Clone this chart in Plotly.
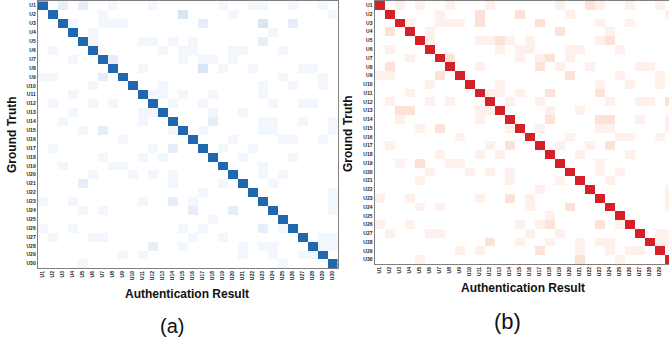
import plotly.graph_objects as go

users = [f"U{i}" for i in range(1, 31)]

# Correct-authentication rate (%) on the diagonal, per ground-truth user
diag_a = [90, 93, 89, 97, 92, 93, 93, 91, 94, 95, 94, 91, 94, 91, 92, 95, 94, 95, 96, 94, 95, 98, 93, 93, 99, 93, 93, 92, 94, 98]
diag_b = [90, 93, 89, 94, 90, 93, 92, 91, 92, 95, 92, 90, 92, 90, 92, 95, 92, 95, 94, 94, 96, 98, 93, 94, 99, 91, 93, 91, 92, 96]

# Misclassification rates (%): for each ground-truth user, (predicted user number, rate)
confusions_a = [
    [(3, 2), (5, 2), (8, 1), (12, 1), (19, 1), (22, 1), (23, 1), (26, 1), (29, 1)],
    [(7, 1), (15, 3), (20, 1), (30, 1)],
    [(4, 1), (7, 1), (8, 1), (9, 1), (17, 2), (23, 3), (26, 2)],
    [(6, 1), (24, 1)],
    [(6, 1), (11, 1), (12, 1), (14, 1), (16, 1), (23, 2)],
    [(2, 1), (13, 1), (15, 1), (16, 1), (20, 1), (21, 1), (25, 1)],
    [(4, 1), (8, 2), (15, 1), (17, 1), (18, 1), (20, 1)],
    [(11, 1), (17, 3), (19, 1), (22, 1), (27, 1), (28, 1)],
    [(1, 1), (2, 1), (7, 2), (25, 1), (29, 1)],
    [(6, 1), (13, 1), (23, 1), (26, 1), (29, 1)],
    [(4, 1), (12, 1), (13, 1), (15, 1), (18, 1), (23, 1)],
    [(2, 1), (6, 1), (8, 1), (14, 1), (17, 1), (24, 1), (27, 1), (28, 1)],
    [(4, 1), (11, 1), (12, 1), (18, 1), (21, 1)],
    [(3, 1), (11, 1), (18, 2), (23, 1), (24, 1), (27, 1), (30, 1)],
    [(5, 1), (7, 2), (14, 1), (17, 1), (23, 1), (24, 1), (30, 1)],
    [(9, 1), (20, 1), (25, 1), (26, 1), (29, 1)],
    [(2, 1), (12, 1), (14, 2), (19, 1), (22, 1)],
    [(7, 1), (11, 1), (13, 1), (21, 1), (26, 1)],
    [(3, 1), (8, 1), (9, 1), (23, 1)],
    [(6, 1), (10, 1), (12, 1), (14, 1), (23, 1), (25, 1)],
    [(5, 2), (14, 1), (19, 1), (24, 1)],
    [(17, 1), (30, 1)],
    [(1, 1), (4, 1), (11, 1), (14, 2), (16, 1), (30, 1)],
    [(5, 1), (7, 1), (16, 2), (20, 2), (30, 1)],
    [(18, 1)],
    [(1, 1), (4, 1), (15, 1), (17, 1), (23, 2), (25, 1)],
    [(2, 1), (6, 1), (7, 1), (16, 1), (19, 1), (29, 1), (30, 1)],
    [(12, 2), (15, 1), (21, 1), (23, 1), (24, 1), (29, 1), (30, 1)],
    [(9, 1), (11, 1), (21, 1), (24, 1), (27, 1), (28, 1)],
    [(5, 1), (25, 1)],
]

confusions_b = [
    [(3, 1), (5, 1), (8, 1), (12, 1), (19, 1), (22, 2), (23, 1), (26, 1), (29, 1)],
    [(7, 1), (11, 2), (15, 2), (20, 1), (30, 1)],
    [(4, 1), (7, 1), (8, 1), (9, 1), (11, 2), (17, 2), (23, 1), (26, 1)],
    [(2, 2), (6, 1), (19, 2), (24, 1)],
    [(6, 1), (11, 1), (12, 1), (13, 2), (14, 1), (16, 1), (23, 1), (24, 2)],
    [(2, 1), (13, 1), (15, 1), (16, 1), (20, 1), (21, 1), (25, 1)],
    [(4, 1), (8, 2), (15, 1), (17, 1), (18, 2), (20, 1)],
    [(2, 2), (11, 1), (17, 2), (19, 1), (22, 1), (27, 1), (28, 1)],
    [(1, 1), (2, 1), (7, 2), (20, 2), (25, 1), (29, 1)],
    [(6, 1), (13, 1), (23, 1), (26, 1), (29, 1)],
    [(4, 1), (12, 1), (13, 1), (15, 1), (18, 2), (23, 2)],
    [(2, 1), (6, 1), (8, 1), (14, 1), (17, 1), (24, 1), (27, 1), (28, 1), (30, 2)],
    [(3, 2), (4, 2), (11, 1), (12, 1), (18, 1), (21, 1)],
    [(3, 1), (11, 1), (18, 2), (23, 2), (24, 2), (27, 1), (30, 1)],
    [(5, 1), (7, 2), (14, 1), (17, 1), (23, 1), (24, 1), (30, 1)],
    [(9, 1), (20, 1), (25, 1), (26, 1), (29, 1)],
    [(2, 1), (12, 1), (14, 2), (19, 1), (22, 1), (24, 2)],
    [(7, 1), (11, 1), (13, 1), (21, 1), (26, 1)],
    [(3, 1), (5, 2), (8, 1), (9, 1), (23, 1)],
    [(6, 1), (10, 1), (12, 1), (14, 1), (23, 1), (25, 1)],
    [(5, 1), (14, 1), (19, 1), (24, 1)],
    [(17, 1), (30, 1)],
    [(1, 1), (4, 1), (11, 1), (14, 2), (16, 1), (30, 1)],
    [(5, 1), (7, 1), (16, 1), (20, 2), (30, 1)],
    [(18, 1)],
    [(1, 1), (4, 1), (15, 1), (17, 1), (18, 2), (23, 2), (25, 1)],
    [(2, 1), (6, 1), (7, 1), (16, 1), (19, 1), (29, 1), (30, 1)],
    [(12, 2), (15, 1), (18, 1), (21, 1), (23, 1), (24, 1), (29, 1), (30, 1)],
    [(9, 1), (11, 1), (17, 2), (21, 1), (24, 1), (26, 1), (27, 1)],
    [(5, 1), (21, 2), (25, 1)],
]


def build_matrix(diag, confusions):
    n = len(diag)
    z = [[0.0] * n for _ in range(n)]
    for r in range(n):
        z[r][r] = diag[r]
        for c, v in confusions[r]:
            z[r][c - 1] = v
    return z


z_a = build_matrix(diag_a, confusions_a)
z_b = build_matrix(diag_b, confusions_b)

W, H = 669, 342

blues = [[0, "#ffffff"], [0.01, "#f2f7fd"], [0.02, "#e5eef9"], [0.03, "#d8e6f4"],
         [0.5, "#1f67ae"], [1, "#1f67ae"]]
reds = [[0, "#ffffff"], [0.01, "#fef1eb"], [0.02, "#fde3d7"], [0.03, "#fbd3c1"],
        [0.5, "#d62027"], [1, "#d62027"]]

idx = list(range(30))

fig = go.Figure()
fig.add_trace(go.Heatmap(z=z_a, x=idx, y=idx, colorscale=blues, zmin=0, zmax=100,
                         showscale=False, xaxis="x", yaxis="y"))
fig.add_trace(go.Heatmap(z=z_b, x=idx, y=idx, colorscale=reds, zmin=0, zmax=100,
                         showscale=False, xaxis="x2", yaxis="y2"))

tickfont = dict(family="Liberation Sans, Arial", size=5, color="#222", weight="bold")
frame = "#808080"


def px_x(p):
    return p / W


def px_y(p):
    return 1 - p / H


fig.update_layout(
    width=W, height=H,
    margin=dict(l=0, r=0, t=0, b=0),
    paper_bgcolor="white", plot_bgcolor="white",
    xaxis=dict(domain=[px_x(37.7), px_x(337.7)], range=[-0.5, 29.5],
               tickvals=idx, ticktext=users, tickangle=-90, tickfont=tickfont,
               showgrid=False, zeroline=False, ticks="", automargin=False,
               showline=True, mirror=True, linecolor=frame, linewidth=1, anchor="y"),
    yaxis=dict(domain=[px_y(268), px_y(1.3)], range=[29.5, -0.5],
               tickvals=idx, ticktext=users, tickfont=tickfont,
               showgrid=False, zeroline=False, ticks="", automargin=False,
               showline=True, mirror=True, linecolor=frame, linewidth=1, anchor="x"),
    xaxis2=dict(domain=[px_x(374.5), 1.0], range=[-0.5, 28.95],
                tickvals=idx, ticktext=users, tickangle=-90, tickfont=tickfont,
                showgrid=False, zeroline=False, ticks="", automargin=False,
                showline=True, mirror=True, linecolor=frame, linewidth=1, anchor="y2"),
    yaxis2=dict(domain=[px_y(264), px_y(1.0)], range=[29.5, -0.5],
                tickvals=idx, ticktext=users, tickfont=tickfont,
                showgrid=False, zeroline=False, ticks="", automargin=False,
                showline=True, mirror=False, linecolor=frame, linewidth=1, anchor="x2"),
)

title_font = dict(family="Liberation Sans, Arial", size=12, color="#111", weight="bold")

annotations = [
    dict(text="Ground Truth", x=px_x(12), y=px_y(135), textangle=-90, font=title_font),
    dict(text="Authentication Result", x=px_x(187.5), y=px_y(293.5), font=title_font),
    dict(text="(a)", x=px_x(172), y=px_y(326), font=dict(family="Liberation Sans, Arial", size=20, color="#111")),
    dict(text="Ground Truth", x=px_x(348), y=px_y(133), textangle=-90, font=title_font),
    dict(text="Authentication Result", x=px_x(523), y=px_y(288), font=title_font),
    dict(text="(b)", x=px_x(507.5), y=px_y(321.5), font=dict(family="Liberation Sans, Arial", size=22, color="#111")),
]
for a in annotations:
    a.update(xref="paper", yref="paper", xanchor="center", yanchor="middle", showarrow=False)
fig.update_layout(annotations=annotations)

fig.write_html("out.html",
               config={"displayModeBar": False},
               post_script="document.body.style.margin='0';document.body.style.overflow='hidden';")
